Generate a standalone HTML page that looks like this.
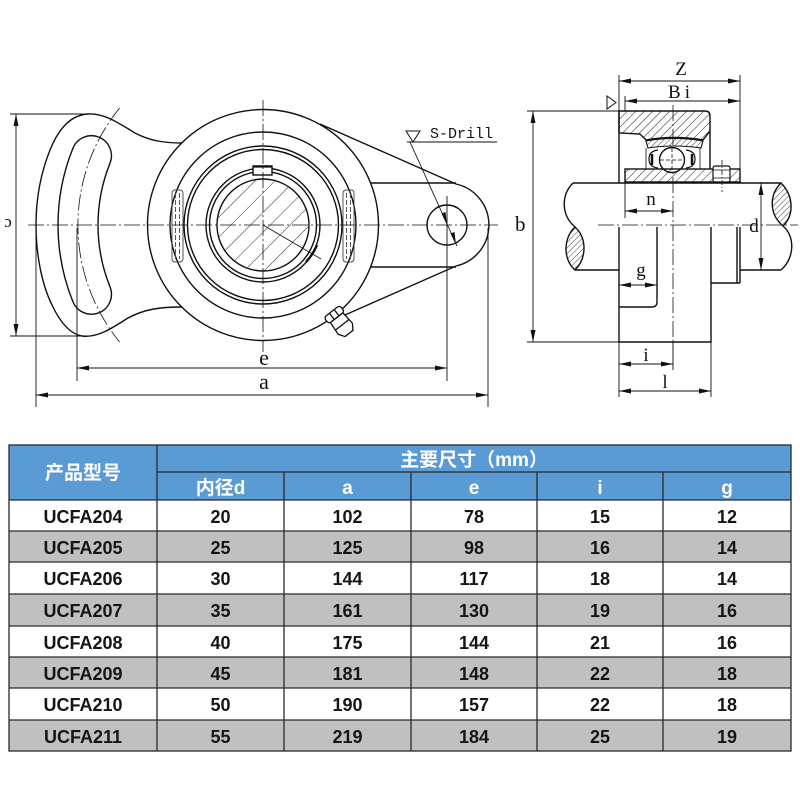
<!DOCTYPE html>
<html><head><meta charset="utf-8"><style>
html,body{margin:0;padding:0;background:#fff;}
svg{display:block;}
</style></head><body>
<svg width="800" height="800" viewBox="0 0 800 800" xmlns="http://www.w3.org/2000/svg">
<defs>
<marker id="ar" viewBox="0 0 12 5" refX="12" refY="2.5" markerWidth="12" markerHeight="5" markerUnits="userSpaceOnUse" orient="auto-start-reverse"><path d="M0,0 L12,2.5 L0,5 Z" fill="#111"/></marker>
<pattern id="h6" width="6" height="6" patternUnits="userSpaceOnUse" patternTransform="rotate(45)"><line x1="0" y1="0" x2="0" y2="6" stroke="#111" stroke-width="0.9"/></pattern>
<pattern id="h14" width="14" height="14" patternUnits="userSpaceOnUse" patternTransform="rotate(45)"><line x1="0" y1="0" x2="0" y2="14" stroke="#111" stroke-width="0.9"/></pattern>
<pattern id="h4" width="4" height="4" patternUnits="userSpaceOnUse" patternTransform="rotate(45)"><line x1="0" y1="0" x2="0" y2="4" stroke="#111" stroke-width="0.8"/></pattern>
</defs>

<!-- ================= LEFT VIEW ================= -->
<g fill="none" stroke="#111" stroke-width="1.4">
  <path d="M182,143 C165,143 150,141 135,133 C120,124 105,113 88,114 C70,115 58,130 50,150 C40,175 36,200 36,225 C36,255 42,285 52,305 C60,322 70,334 82,336 C98,338 112,328 128,318 C145,309 160,307 182,307"/>
  <path d="M72.93,148.21 A205,205 0 0 0 72.93,301.79 A20,20 0 0 0 110.02,286.81 A165,165 0 0 1 110.02,163.19 A20,20 0 0 0 72.93,148.21 Z"/>
  <path d="M320,124 L456,184 A42,42 0 0 1 456,266 L345,315 L330,319"/>
  <path d="M370,183 H456 M370,267 H456"/>
  <circle cx="447" cy="225" r="20"/>
  <circle cx="263" cy="225" r="115.5"/>
  <circle cx="263" cy="225" r="93"/>
  <circle cx="263" cy="225" r="79"/>
  <circle cx="263" cy="225" r="75.5"/>
  <circle cx="263" cy="225" r="57"/>
  <circle cx="263" cy="225" r="53.5"/>
  <circle cx="263" cy="225" r="46" fill="url(#h14)"/>
  <rect x="253" y="166" width="19" height="9" fill="#fff"/>
  <path d="M253,166.5 H272" stroke-width="2.2"/>
  <path d="M263,225 L321,259" stroke-width="0.8"/>
  <path d="M306,262 A56,56 0 0 0 317,245" stroke-width="2.4"/>
</g>
<g fill="none" stroke="#444" stroke-width="0.9">
  <rect x="172" y="190" width="11" height="72" rx="3"/>
  <path d="M175.5,193 V259 M179.5,193 V259" stroke-dasharray="5,2"/>
  <rect x="343" y="190" width="11" height="72" rx="3"/>
  <path d="M346.5,193 V259 M350.5,193 V259" stroke-dasharray="5,2"/>
</g>
<g transform="translate(333,313) rotate(-38)" fill="#fff" stroke="#111" stroke-width="1.3">
  <rect x="-10" y="-2" width="20" height="8" rx="3"/>
  <path d="M-3,-2 V6 M3,-2 V6" fill="none"/>
  <path d="M-8,6 L-9,20 L-5,26 L5,26 L9,20 L8,6 Z"/>
  <path d="M-9,15 H9" fill="none"/>
</g>
<g fill="none" stroke="#111" stroke-width="0.8" stroke-dasharray="16,3,2,3">
  <path d="M28,225 H498"/>
  <path d="M263,100 V352"/>
  <path d="M119.6,108 A185,185 0 0 0 119.6,342"/>
  <path d="M598,225 H798"/>
  <path d="M673,105 V350"/>
</g>
<g fill="none" stroke="#111" stroke-width="0.9">
  <path d="M16,114 V336" marker-start="url(#ar)" marker-end="url(#ar)"/>
  <path d="M10,114 H92 M10,336 H86"/>
  <path d="M77,228 V381 M447,196 V381"/>
  <path d="M36,228 V407 M488,228 V407"/>
  <path d="M77,368 H447" marker-start="url(#ar)" marker-end="url(#ar)"/>
  <path d="M36,395 H488" marker-start="url(#ar)" marker-end="url(#ar)"/>
  <path d="M407,142 H497"/>
  <path d="M410,142 L457,246"/>
</g>
<polygon points="406,131 420,131 413,142" fill="#fff" stroke="#111" stroke-width="1"/>
<polygon points="447,225 441.5,213.5 445.5,212" fill="#111"/>
<polygon points="456,245 450.5,233.5 454.5,232" fill="#111"/>
<g font-family="'Liberation Serif', serif" fill="#111">
  <text x="264" y="365" font-size="22" text-anchor="middle">e</text>
  <text x="264" y="389" font-size="22" text-anchor="middle">a</text>
  <text x="0" y="0" font-size="17" transform="translate(8,219) rotate(180)" text-anchor="middle">c</text>
</g>
<text x="430" y="138" font-family="'Liberation Mono', monospace" font-size="15" fill="#111">S-Drill</text>

<!-- ================= RIGHT VIEW ================= -->
<g fill="none" stroke="#111" stroke-width="1.4">
  <path d="M619,111 H705 Q710,111 710,116 V131 L703,140 Q674,135 646,140 L640,134 L619,133 Z" fill="url(#h6)"/>
  <path d="M619,111 V183 M710,131 V169"/>
  <path d="M646,141 Q674,136 703,141 L701,148 Q674,144 648,148 Z" fill="url(#h4)" stroke-width="1.1"/>
  <path d="M646,148 V169 M700,148 V169" stroke-width="0.8"/>
  <path d="M658,150 Q649,151 649,159 Q649,167 658,168" stroke-width="1.2"/>
  <path d="M652,154 V165" stroke-width="2.5"/>
  <path d="M686,150 Q695,151 695,159 Q695,167 686,168" stroke-width="1.2"/>
  <path d="M692,154 V165" stroke-width="2.5"/>
  <circle cx="672" cy="160" r="12.5" fill="#fff"/>
  <rect x="625" y="169" width="115" height="13" fill="url(#h6)"/>
  <rect x="713" y="166" width="17" height="16" rx="2" fill="#fff" stroke-width="1.2"/>
  <path d="M713,170 H730 M713,178 H730" stroke-width="0.8"/>
  <path d="M573,183 H781"/>
  <path d="M575,270 H619 M740,270 H781"/>
  <path d="M573,183 C561,195 561,215 575,227"/>
  <path d="M575,227 C563,238 563,260 575,270 C587,258 587,238 575,227 Z" fill="url(#h4)"/>
  <path d="M781,183 C769,195 769,214 783,226 C795,214 793,195 781,183 Z" fill="url(#h4)"/>
  <path d="M783,226 C795,236 795,258 781,270"/>
  <path d="M619,227 V342 H711 V227"/>
  <path d="M657,227 V302 Q657,307 652,307 H619"/>
  <path d="M711,283 H740 M737,227 V283 M740,227 V283"/>
</g>
<g fill="none" stroke="#111" stroke-width="0.8">
  <path d="M660,160 H684 M672,148 V172" stroke-dasharray="4,2"/>
  <path d="M722,160 V192" stroke-dasharray="5,2,1,2"/>
</g>
<g fill="none" stroke="#111" stroke-width="0.9">
  <path d="M619,75 V111 M740,75 V169 M625,96 V111"/>
  <path d="M619,81 H740" marker-start="url(#ar)" marker-end="url(#ar)"/>
  <path d="M625,101 H740" marker-start="url(#ar)" marker-end="url(#ar)"/>
  <path d="M527,111 H619 M527,342 H619"/>
  <path d="M533,111 V342" marker-start="url(#ar)" marker-end="url(#ar)"/>
  <path d="M625,182 V218"/>
  <path d="M625,211 H673" marker-start="url(#ar)" marker-end="url(#ar)"/>
  <path d="M619,285 H657" marker-start="url(#ar)" marker-end="url(#ar)"/>
  <path d="M619,342 V397 M711,342 V397 M673,342 V370"/>
  <path d="M619,364 H673" marker-start="url(#ar)" marker-end="url(#ar)"/>
  <path d="M619,391 H711" marker-start="url(#ar)" marker-end="url(#ar)"/>
  <path d="M761,183 V270" marker-start="url(#ar)" marker-end="url(#ar)"/>
</g>
<polygon points="607,96 607,109 616,102.5" fill="#fff" stroke="#111" stroke-width="1"/>
<g font-family="'Liberation Serif', serif" fill="#111" font-size="19">
  <text x="681" y="75" text-anchor="middle">Z</text>
  <text x="681" y="98" text-anchor="middle" letter-spacing="4">Bi</text>
  <text x="651" y="205" text-anchor="middle">n</text>
  <text x="641" y="276" text-anchor="middle">g</text>
  <text x="646" y="361" text-anchor="middle">i</text>
  <text x="665" y="388" text-anchor="middle">l</text>
  <text x="754" y="232" text-anchor="middle">d</text>
  <text x="515" y="231" font-size="21">b</text>
</g>

<!-- ================= TABLE ================= -->
<g>
  <rect x="9" y="445" width="782" height="55" fill="#5B9BD5"/>
  <rect x="9" y="531" width="782" height="31" fill="#C0C0C0"/>
  <rect x="9" y="594" width="782" height="32" fill="#C0C0C0"/>
  <rect x="9" y="657" width="782" height="31" fill="#C0C0C0"/>
  <rect x="9" y="720" width="782" height="31" fill="#C0C0C0"/>
  <g stroke="#2a2a2a" stroke-width="1.3" fill="none">
    <rect x="9" y="445" width="782" height="306"/>
    <path d="M157,472 H791"/>
    <path d="M9,500 H791 M9,531 H791 M9,562 H791 M9,594 H791 M9,626 H791 M9,657 H791 M9,688 H791 M9,720 H791"/>
    <path d="M157,445 V751"/>
    <path d="M284,472 V751 M411,472 V751 M537,472 V751 M663,472 V751"/>
  </g>
  <g font-family="'Liberation Sans', 'Noto Sans CJK SC', sans-serif" font-weight="bold" fill="#fff" text-anchor="middle" font-size="19">
    <text x="83" y="479">产品型号</text>
    <text x="474" y="466">主要尺寸（mm）</text>
    <text x="220.5" y="494">内径d</text>
    <text x="347.5" y="494">a</text>
    <text x="474" y="494">e</text>
    <text x="600" y="494">i</text>
    <text x="727" y="494">g</text>
  </g>
  <g font-family="'Liberation Sans', sans-serif" font-weight="bold" fill="#151515" text-anchor="middle" font-size="18">
    <text x="83" y="523">UCFA204</text><text x="220.5" y="523">20</text><text x="347.5" y="523">102</text><text x="474" y="523">78</text><text x="600" y="523">15</text><text x="727" y="523">12</text>
    <text x="83" y="554">UCFA205</text><text x="220.5" y="554">25</text><text x="347.5" y="554">125</text><text x="474" y="554">98</text><text x="600" y="554">16</text><text x="727" y="554">14</text>
    <text x="83" y="585">UCFA206</text><text x="220.5" y="585">30</text><text x="347.5" y="585">144</text><text x="474" y="585">117</text><text x="600" y="585">18</text><text x="727" y="585">14</text>
    <text x="83" y="617">UCFA207</text><text x="220.5" y="617">35</text><text x="347.5" y="617">161</text><text x="474" y="617">130</text><text x="600" y="617">19</text><text x="727" y="617">16</text>
    <text x="83" y="649">UCFA208</text><text x="220.5" y="649">40</text><text x="347.5" y="649">175</text><text x="474" y="649">144</text><text x="600" y="649">21</text><text x="727" y="649">16</text>
    <text x="83" y="680">UCFA209</text><text x="220.5" y="680">45</text><text x="347.5" y="680">181</text><text x="474" y="680">148</text><text x="600" y="680">22</text><text x="727" y="680">18</text>
    <text x="83" y="711">UCFA210</text><text x="220.5" y="711">50</text><text x="347.5" y="711">190</text><text x="474" y="711">157</text><text x="600" y="711">22</text><text x="727" y="711">18</text>
    <text x="83" y="743">UCFA211</text><text x="220.5" y="743">55</text><text x="347.5" y="743">219</text><text x="474" y="743">184</text><text x="600" y="743">25</text><text x="727" y="743">19</text>
  </g>
</g>
</svg>
</body></html>
